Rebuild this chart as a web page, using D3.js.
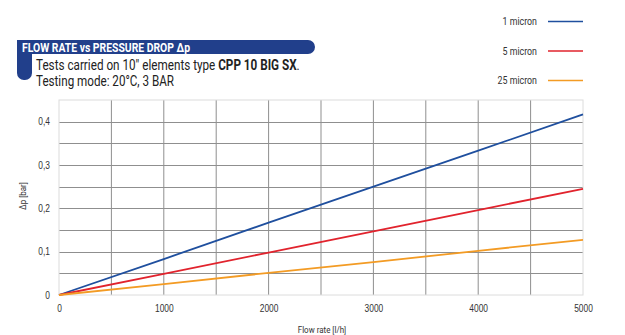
<!DOCTYPE html>
<html>
<head>
<meta charset="utf-8">
<script src="https://cdn.jsdelivr.net/npm/d3@7"></script>
<style>
  body { margin: 0; background: #fff; }
  svg { display: block; font-family: "Roboto", "Liberation Sans", sans-serif; }
  .grid line { stroke: #8f8f8f; stroke-width: 1; }
  .axis text { fill: #333; font-size: 10px; }
</style>
</head>
<body>
<svg width="625" height="335"></svg>
<script>
'use strict';

// flow rate in l/h, pressure drop in bar
const flowRate = [0, 1000, 2000, 3000, 4000, 5000];
const micron1 = [0, 0.083, 0.167, 0.25, 0.333, 0.417];
const micron5 = [0, 0.049, 0.098, 0.147, 0.196, 0.245];
const micron25 = [0, 0.025, 0.051, 0.076, 0.102, 0.127];

const seriesNames = ["1 micron", "5 micron", "25 micron"];
const seriesColors = ["#1f4f9e", "#e1232d", "#f39b24"];
const seriesValues = [micron1, micron5, micron25];

const xTicks = [0, 1000, 2000, 3000, 4000, 5000];
const yTicks = [0, 0.1, 0.2, 0.3, 0.4];

const CONDENSE = 0.84;

const svg = d3.select("svg");

const plot = { left: 59, right: 583, top: 100, bottom: 295 };

const x = d3.scaleLinear().domain([0, 5000]).range([plot.left, plot.right]);
const y = d3.scaleLinear().domain([0, 0.45]).range([plot.bottom, plot.top]);

/**
 * Squeeze a text horizontally, the typeface has no condensed cut installed
 */
function condense(node, k, width) {
    const w = width || node.getComputedTextLength() * k;
    d3.select(node).attr("textLength", w).attr("lengthAdjust", "spacingAndGlyphs");
}

/**
 * Squeeze a whole group to a given width, left edge kept at x0
 */
function squeezeGroup(g, x0, width) {
    const w = g.node().getBBox().width;
    g.attr("transform", "translate(" + x0 + ",0) scale(" + (width / w) + ",1)");
}

/**
 * Title banner with the tab hanging off its left end
 */
function drawHeader() {
    const blue = "#213f8b";
    svg.append("path")
        .attr("fill", blue)
        .attr("d", "M17,40 H308 A7,7 0 0 1 308,54 H32 V73 A7,7 0 0 1 25,80 H24 A7,7 0 0 1 17,73 Z");

    const title = svg.append("text")
        .attr("x", 22).attr("y", 52)
        .attr("fill", "#fff")
        .attr("font-size", 13)
        .attr("font-weight", "bold")
        .text("FLOW RATE vs PRESSURE DROP Δp");
    condense(title.node(), 0, 168);

    const subGroup = svg.append("g");
    const sub = subGroup.append("text")
        .attr("x", 0).attr("y", 70)
        .attr("fill", "#222")
        .attr("font-size", 14);
    sub.append("tspan").text("Tests carried on 10\" elements type ");
    sub.append("tspan").attr("font-weight", "bold").text("CPP 10 BIG SX");
    sub.append("tspan").text(".");
    squeezeGroup(subGroup, 36, 264);

    const mode = svg.append("text")
        .attr("x", 36).attr("y", 85.5)
        .attr("fill", "#222")
        .attr("font-size", 14)
        .text("Testing mode: 20°C, 3 BAR");
    condense(mode.node(), 0, 138);
}

/**
 * Legend in the top right corner
 */
function drawLegend() {
    const legend = svg.append("g")
        .selectAll("g")
        .data(seriesNames)
        .enter()
        .append("g")
        .attr("transform", (d, i) => "translate(0," + (21.5 + i * 29.5) + ")");

    legend.append("text")
        .attr("x", 537).attr("y", 3.5)
        .attr("text-anchor", "end")
        .attr("fill", "#333")
        .attr("font-size", 10.5)
        .text(d => d)
        .each(function () { condense(this, CONDENSE); });

    legend.append("line")
        .attr("x1", 548).attr("x2", 583)
        .attr("stroke", (d, i) => seriesColors[i])
        .attr("stroke-width", 1.6);
}

function drawGrid() {
    const grid = svg.append("g").attr("class", "grid");

    grid.selectAll("line.v")
        .data(d3.range(500, 5000, 500))
        .enter().append("line")
        .attr("x1", d => x(d)).attr("x2", d => x(d))
        .attr("y1", plot.top).attr("y2", plot.bottom);

    grid.selectAll("line.h")
        .data(d3.range(0.05, 0.449, 0.05))
        .enter().append("line")
        .attr("y1", d => Math.round(y(d)) + 0.5).attr("y2", d => Math.round(y(d)) + 0.5)
        .attr("x1", plot.left).attr("x2", plot.right);

    svg.append("rect")
        .attr("x", plot.left).attr("y", plot.top)
        .attr("width", plot.right - plot.left)
        .attr("height", plot.bottom - plot.top)
        .attr("fill", "none")
        .attr("stroke", "#dcdcdc");
}

function drawAxes() {
    const fmt = d => d === 0 ? "0" : d3.format(".1f")(d).replace(".", ",");

    svg.append("g")
        .attr("class", "axis")
        .attr("transform", "translate(" + (plot.left - 9) + ",0)")
        .call(d3.axisLeft(y).tickValues(yTicks).tickFormat(fmt).tickSize(0).tickPadding(0))
        .call(g => g.select(".domain").remove())
        .selectAll("text").each(function () { condense(this, CONDENSE); });

    svg.append("g")
        .attr("class", "axis")
        .attr("transform", "translate(0," + (plot.bottom + 10) + ")")
        .call(d3.axisBottom(x).tickValues(xTicks).tickFormat(d3.format("d")).tickSize(0).tickPadding(0))
        .call(g => g.select(".domain").remove())
        .selectAll("text").each(function () { condense(this, CONDENSE); });

    svg.append("text")
        .attr("x", 322).attr("y", 333)
        .attr("text-anchor", "middle")
        .attr("fill", "#333")
        .attr("font-size", 9.5)
        .text("Flow rate [l/h]")
        .each(function () { condense(this, CONDENSE); });

    svg.append("text")
        .attr("transform", "translate(26,196) rotate(-90)")
        .attr("text-anchor", "middle")
        .attr("fill", "#333")
        .attr("font-size", 9.5)
        .text("Δp [bar]")
        .each(function () { condense(this, CONDENSE); });
}

function drawLines() {
    const line = d3.line()
        .x((d, i) => x(flowRate[i]))
        .y(d => y(d));

    svg.append("g")
        .selectAll("path")
        .data(seriesValues)
        .enter()
        .append("path")
        .attr("fill", "none")
        .attr("stroke", (d, i) => seriesColors[i])
        .attr("stroke-width", 1.8)
        .attr("d", line);
}

drawHeader();
drawLegend();
drawGrid();
drawAxes();
drawLines();
</script>
</body>
</html>
